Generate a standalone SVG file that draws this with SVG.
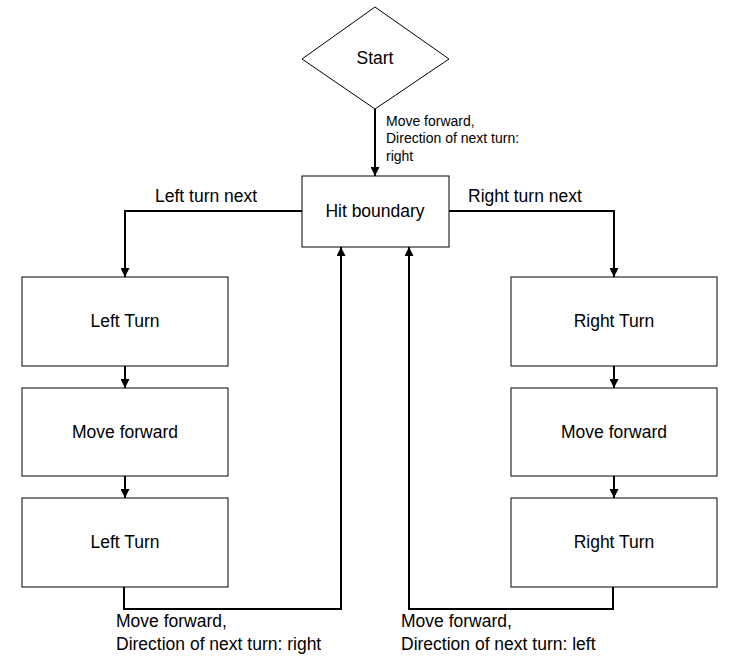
<svg xmlns="http://www.w3.org/2000/svg" width="743" height="670" viewBox="0 0 743 670">
<style>
.node{fill:#fff;stroke:#000;stroke-width:1}
.t{font-family:"Liberation Sans",Arial,sans-serif;font-size:17.5px;fill:#000;text-anchor:middle;dominant-baseline:central}
.lbl{font-family:"Liberation Sans",Arial,sans-serif;font-size:17.5px;fill:#000}
.sm{font-family:"Liberation Sans",Arial,sans-serif;font-size:14px;fill:#000}
.c{fill:none;stroke:#000;stroke-width:2}
</style>
<defs>
<marker id="ah" viewBox="0 0 10 10" refX="10" refY="5" markerWidth="4.5" markerHeight="4.5" markerUnits="strokeWidth" orient="auto">
<path d="M0,0 L10,5 L0,10 Z" fill="#000"/>
</marker>
</defs>
<rect width="743" height="670" fill="#fff"/>
<g id="connectors">
<path class="c" d="M375,109 V176" marker-end="url(#ah)"/>
<path class="c" d="M302,211 H125 V277" marker-end="url(#ah)"/>
<path class="c" d="M449,211 H614 V277" marker-end="url(#ah)"/>
<path class="c" d="M125,366 V388" marker-end="url(#ah)"/>
<path class="c" d="M125,476 V498" marker-end="url(#ah)"/>
<path class="c" d="M614,366 V388" marker-end="url(#ah)"/>
<path class="c" d="M614,476 V498" marker-end="url(#ah)"/>
<path class="c" d="M124,587 V609 H341 V247" marker-end="url(#ah)"/>
<path class="c" d="M613,587 V609 H409 V247" marker-end="url(#ah)"/>
<text class="sm" x="386" y="126">Move forward,</text>
<text class="sm" x="386" y="143">Direction of next turn:</text>
<text class="sm" x="386" y="161">right</text>
<text class="lbl" x="155" y="202">Left turn next</text>
<text class="lbl" x="468" y="202">Right turn next</text>
<text class="lbl" x="116" y="627">Move forward,</text>
<text class="lbl" x="116" y="650">Direction of next turn: right</text>
<text class="lbl" x="401" y="627">Move forward,</text>
<text class="lbl" x="401" y="650">Direction of next turn: left</text>
</g>
<g id="start"><polygon class="node" points="375,7 449,59 375,109 302,59"/><text class="t" x="375" y="58">Start</text></g>
<g id="hit"><rect class="node" x="302" y="176" width="147" height="71"/><text class="t" x="375" y="211">Hit boundary</text></g>
<g id="l1"><rect class="node" x="22" y="277" width="206" height="89"/><text class="t" x="125" y="321">Left Turn</text></g>
<g id="l2"><rect class="node" x="22" y="388" width="206" height="88"/><text class="t" x="125" y="432">Move forward</text></g>
<g id="l3"><rect class="node" x="22" y="498" width="206" height="89"/><text class="t" x="125" y="542">Left Turn</text></g>
<g id="r1"><rect class="node" x="511" y="277" width="206" height="89"/><text class="t" x="614" y="321">Right Turn</text></g>
<g id="r2"><rect class="node" x="511" y="388" width="206" height="88"/><text class="t" x="614" y="432">Move forward</text></g>
<g id="r3"><rect class="node" x="511" y="498" width="206" height="89"/><text class="t" x="614" y="542">Right Turn</text></g>
</svg>
